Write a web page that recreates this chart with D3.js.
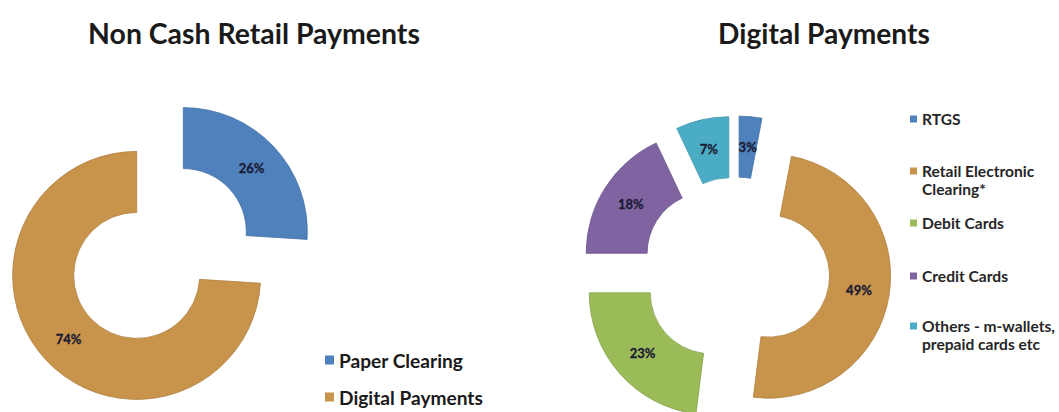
<!DOCTYPE html>
<html>
<head>
<meta charset="utf-8">
<script src="https://cdn.jsdelivr.net/npm/d3@7"></script>
<style>
  html, body { margin: 0; padding: 0; background: #ffffff; }
  svg { display: block; }
  text { font-family: Lato, "Open Sans", "DejaVu Sans", sans-serif; font-weight: 700; }
</style>
</head>
<body>
<svg id="chart" width="1059" height="412"></svg>
<script>
// Non cash retail payments split
const retailCategories = ["Paper Clearing", "Digital Payments"];
const retailValues = [26, 74];
const retailColors = ["#4f81bd", "#c8934a"];

// Digital payments split
const digitalCategories = ["RTGS", "Retail Electronic Clearing*", "Debit Cards", "Credit Cards", "Others - m-wallets, prepaid cards etc"];
const digitalLegendLines = [["RTGS"], ["Retail Electronic", "Clearing*"], ["Debit Cards"], ["Credit Cards"], ["Others - m-wallets,", "prepaid cards etc"]];
const digitalValues = [3, 49, 23, 18, 7];
const digitalColors = ["#4f81bd", "#c8934a", "#9bbb59", "#8064a2", "#4bacc6"];

const titles = ["Non Cash Retail Payments", "Digital Payments"];

const svg = d3.select("#chart");

// scale a text element's font size so it spans a given width
function fitWidth(sel, base, width) {
  sel.style("font-size", base + "px");
  const w = sel.node().getComputedTextLength();
  sel.style("font-size", (base * width / w) + "px");
  return sel;
}

function explodedDonut(g, values, colors, opts) {
  const pie = d3.pie().sort(null).value(d => d).startAngle(0).endAngle(2 * Math.PI);
  const arc = d3.arc().innerRadius(opts.inner).outerRadius(opts.outer);
  const arcs = pie(values);
  const slice = g.selectAll("g.slice").data(arcs).join("g")
    .attr("class", "slice")
    .attr("transform", d => {
      const a = (d.startAngle + d.endAngle) / 2;
      return `translate(${opts.explode * Math.sin(a)},${-opts.explode * Math.cos(a)})`;
    });
  slice.append("path")
    .attr("d", arc)
    .attr("fill", (d, i) => colors[i])
    .attr("stroke", (d, i) => d3.color(colors[i]).darker(0.4))
    .attr("stroke-width", 0.8);
  slice.append("text")
    .attr("transform", d => `translate(${arc.centroid(d)})`)
    .attr("text-anchor", "middle")
    .attr("dominant-baseline", "central")
    .attr("fill", "#1a1a33")
    .attr("stroke", "#1a1a33")
    .attr("stroke-width", 0.3)
    .style("font-size", opts.labelSize + "px")
    .text(d => d.data + "%");
}

// Left chart
const left = svg.append("g").attr("transform", "translate(160,253.5)");
explodedDonut(left, retailValues, retailColors, { inner: 63, outer: 124, explode: 32, labelSize: 13 });

// Right chart
const right = svg.append("g").attr("transform", "translate(736,271)");
explodedDonut(right, digitalValues, digitalColors, { inner: 61, outer: 122, explode: 33, labelSize: 13 });

// Titles
const titleSpecs = [{ x: 254, width: 332 }, { x: 824, width: 212 }];
titles.forEach((t, i) => {
  const el = svg.append("text")
    .attr("x", titleSpecs[i].x).attr("y", 33)
    .attr("text-anchor", "middle")
    .attr("dominant-baseline", "central")
    .attr("fill", "#1a1a1a")
    .text(t);
  fitWidth(el, 22, titleSpecs[i].width);
});

// Left legend
const leftRows = [360, 397];
const leftLegend = svg.append("g");
retailCategories.forEach((c, i) => {
  leftLegend.append("rect")
    .attr("x", 325).attr("y", leftRows[i] - 4.5)
    .attr("width", 9).attr("height", 9)
    .attr("fill", retailColors[i]);
  const el = leftLegend.append("text")
    .attr("x", 339).attr("y", leftRows[i])
    .attr("dominant-baseline", "central")
    .attr("fill", "#1a1a1a")
    .text(c);
  if (i === 0) fitWidth(el, 16, 124);
});
leftLegend.selectAll("text").style("font-size", leftLegend.select("text").style("font-size"));

// Right legend
const rightRows = [119, 171, 223, 276, 326];
const lineGap = 17.5;
const rightLegend = svg.append("g");
let rightSize = null;
digitalLegendLines.forEach((lines, i) => {
  rightLegend.append("rect")
    .attr("x", 910).attr("y", rightRows[i] - 3.5)
    .attr("width", 7).attr("height", 7)
    .attr("fill", digitalColors[i]);
  lines.forEach((ln, j) => {
    const el = rightLegend.append("text")
      .attr("x", 922).attr("y", rightRows[i] + j * lineGap)
      .attr("dominant-baseline", "central")
      .attr("fill", "#262626")
      .text(ln);
    if (i === 2) rightSize = fitWidth(el, 12, 82).style("font-size");
  });
});
rightLegend.selectAll("text").style("font-size", rightSize);
</script>
</body>
</html>
